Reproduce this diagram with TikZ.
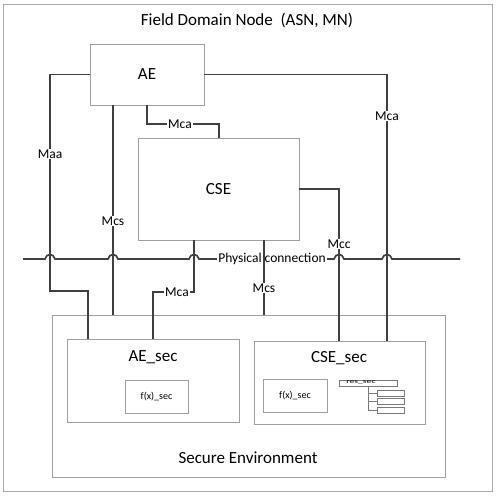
\documentclass[tikz,border=0pt]{standalone}
\usepackage{fontspec}
\setmainfont{Carlito}
\definecolor{linegray}{RGB}{64,64,64}
\definecolor{boxgray}{RGB}{160,160,160}
\definecolor{framegray}{RGB}{170,170,170}
\begin{document}
\begin{tikzpicture}[x=1pt,y=-1pt,
  box/.style={draw=boxgray, line width=0.8pt, inner sep=0pt, outer sep=0pt, anchor=north west},
  conn/.style={draw=linegray, line width=1.7pt},
  lbl/.style={fill=white, inner sep=1pt, font=\fontsize{13.5}{15}\selectfont},
  big/.style={font=\fontsize{17}{20}\selectfont},
  small/.style={font=\fontsize{10}{12}\selectfont},
  thin/.style={draw=linegray!70, line width=0.6pt}
]
\useasboundingbox (0,0) rectangle (497,497);
% outer frame
\node[box, draw=framegray, minimum width=489pt, minimum height=487pt] (frame) at (3,4) {};
\node[big, anchor=base] (title) at (247,26) {Field Domain Node~~(ASN, MN)};

% boxes
\node[box, minimum width=114pt, minimum height=61pt, big] (AE) at (90,44) {AE};
\node[box, minimum width=161pt, minimum height=102pt, big] (CSE) at (138,138) {CSE};
\node[box, minimum width=393pt, minimum height=162pt] (SecEnv) at (52,315) {};
\node[big, anchor=base] (SecLbl) at (248,463) {Secure Environment};
\node[box, minimum width=172pt, minimum height=83pt] (AEsec) at (67,339) {};
\node[big, anchor=base] (AEsecLbl) at (153,361) {AE\_sec};
\node[box, minimum width=63pt, minimum height=33pt, small] (AEf) at (125,380) {f(x)\_sec};
\node[box, minimum width=171pt, minimum height=83pt] (CSEsec) at (254,341) {};
\node[big, anchor=base] (CSEsecLbl) at (339,362) {CSE\_sec};
\node[box, minimum width=64pt, minimum height=33pt, small] (CSEf) at (263,379) {f(x)\_sec};
\node[box, thin, minimum width=58pt, minimum height=6pt] (res) at (339,380) {};
\node[font=\fontsize{6}{6}\selectfont, inner sep=0pt] (resLbl) at (361,382.5) {\scalebox{1.6}[1]{res\_sec}};
\node[box, thin, minimum width=27pt, minimum height=6pt] (r1) at (377,390) {};
\node[box, thin, minimum width=27pt, minimum height=6pt] (r2) at (377,398.5) {};
\node[box, thin, minimum width=27pt, minimum height=6pt] (r3) at (377,407) {};
\draw[thin] (res.south -| 368,0) |- (r3.west);
\draw[thin] (r1.west -| 368,0) -- (r1.west);
\draw[thin] (r2.west -| 368,0) -- (r2.west);

% physical connection line with jumps
\coordinate (PL) at (23,259);
\coordinate (PR) at (460,259);
\draw[conn] (PL) -- (45,259) .. controls (46.5,253) and (53.5,253) .. (55,259)
  -- (108,259) .. controls (109.5,253) and (116.5,253) .. (118,259)
  -- (189,259) .. controls (190.5,253) and (197.5,253) .. (199,259)
  -- (334,259) .. controls (335.5,253) and (342.5,253) .. (344,259)
  -- (382,259) .. controls (383.5,253) and (390.5,253) .. (392,259)
  -- (PR);
\node[lbl] (phys) at (272,259) {Physical connection};

% connectors
\draw[conn] (AE.west) -| (50,291) -| (AEsec.north -| 88,0);
\draw[conn] (AE.south -| 113,0) -- (SecEnv.north -| 113,0);
\draw[conn] (AE.south) |- (219,124) -- (CSE.north -| 219,0);
\draw[conn] (AE.east) -| (CSEsec.north -| 387,0);
\draw[conn] (CSE.east) -| (CSEsec.north -| 339,0);
\draw[conn] (CSE.south -| 194,0) |- (153,292) -- (AEsec.north -| 153,0);
\draw[conn] (CSE.south -| 264,0) -- (SecEnv.north -| 264,0);

% connector labels
\node[lbl] (lMaa) at (50,154) {Maa};
\node[lbl] (lMcs1) at (113,221) {Mcs};
\node[lbl] (lMca1) at (180,124) {Mca};
\node[lbl] (lMca2) at (387,116) {Mca};
\node[lbl] (lMcc) at (339,244) {Mcc};
\node[lbl] (lMca3) at (177,292) {Mca};
\node[lbl] (lMcs2) at (264,288) {Mcs};
\end{tikzpicture}
\end{document}
